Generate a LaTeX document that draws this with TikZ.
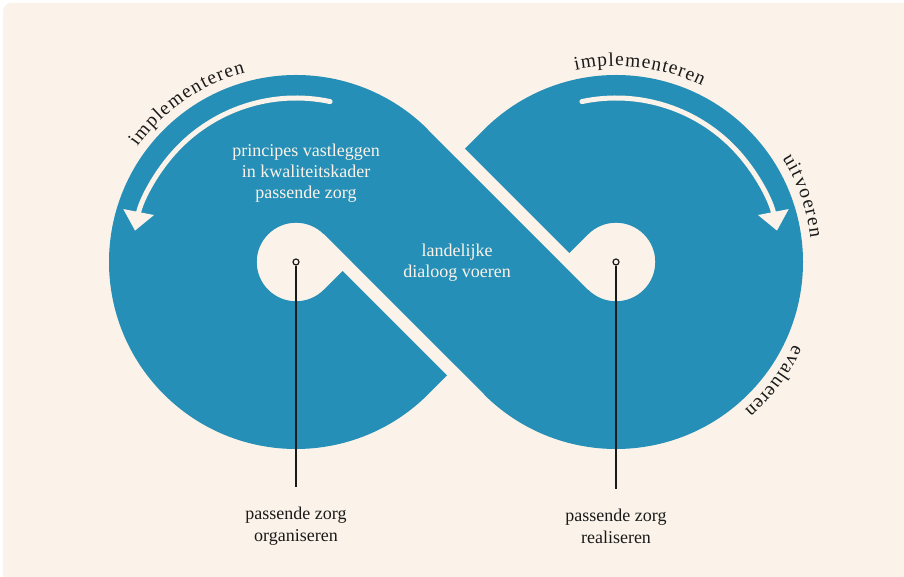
\documentclass[tikz,border=0pt]{standalone}
\usepackage{fontspec}
\setmainfont{Liberation Serif}
\usetikzlibrary{arrows.meta,decorations.text}
\definecolor{zorgblue}{RGB}{38,143,183}
\definecolor{cream}{RGB}{251,243,233}
\definecolor{ink}{RGB}{26,26,26}

\begin{document}
\begin{tikzpicture}[x=1pt,y=1pt,
  inner/.style={text=cream, align=center, font=\fontsize{18}{21}\selectfont},
  outer/.style={text=ink, align=center, font=\fontsize{18}{22}\selectfont},
  pin/.style={circle, draw=ink, fill=cream, line width=1.2pt, minimum size=6pt, inner sep=0pt},
  loop/.style={cream, line width=5pt, line cap=round, -{Triangle[width=30pt,length=19pt]}},
  curved/.style={decorate, decoration={text along path, text align={fit to path},
      text={|\fontsize{19.5}{19.5}\selectfont\color{ink}|#1}}}]
\useasboundingbox (0,0) rectangle (904,577);
\fill[white] (0,0) rectangle (904,577);
\fill[cream, rounded corners=8pt] (3,-10) rectangle (915,574);

% the band, with the two teardrop holes
\fill[zorgblue, even odd rule]
  (428.23,447.23) arc[start angle=45, end angle=315, radius=187]
  -- (456,210.54) -- (483.77,182.77)
  arc[start angle=225, end angle=495, radius=187]
  -- (456,419.46) -- cycle
  (351.54,315) -- (323.77,342.77) arc[start angle=45, end angle=315, radius=39.27] -- cycle
  (560.46,315) -- (588.23,342.77) arc[start angle=135, end angle=-135, radius=39.27] -- cycle;

% gaps where the band crosses
\fill[cream] (428.23,447.23) -- (588.23,287.23) -- ++(8.84,8.84) -- (437.07,456.07) -- cycle;
\fill[cream] (323.77,342.77) -- (483.77,182.77) -- ++(-8.84,-8.84) -- (314.93,333.93) -- cycle;

% arrows
\draw[loop] (296,315) ++(78:164) arc[start angle=78, end angle=169, radius=164];
\draw[loop] (616,315) ++(102:164) arc[start angle=102, end angle=11, radius=164];

% words round the loops
\path[curved=implementeren] (296,315) ++(144:196) arc[start angle=144, end angle=105, radius=196];
\path[curved=implementeren] (616,315) ++(102:196) arc[start angle=102, end angle=64, radius=196];
\path[curved=uitvoeren] (616,315) ++(32:196) arc[start angle=32, end angle=7, radius=196];
\path[curved=evalueren] (616,315) ++(-25:196) arc[start angle=-25, end angle=-49, radius=196];

\node[inner] (principes) at (306,404) {principes vastleggen\\in kwaliteitskader\\passende zorg};
\node[inner] (dialoog) at (457,314) {landelijke\\dialoog voeren};

\node[pin] (dotL) at (296,315) {};
\node[pin] (dotR) at (616,315) {};
\node[outer] (lblL) at (296,51) {passende zorg\\organiseren};
\node[outer] (lblR) at (616,51) {passende zorg\\realiseren};
\draw[ink, line width=1.2pt, shorten >=16pt] (dotL) -- (lblL);
\draw[ink, line width=1.2pt, shorten >=16pt] (dotR) -- (lblR);
\end{tikzpicture}
\end{document}
